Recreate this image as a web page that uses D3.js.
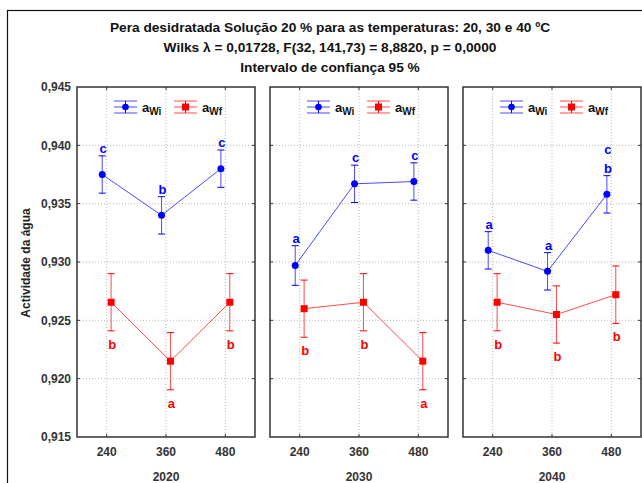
<!DOCTYPE html>
<html>
<head>
<meta charset="utf-8">
<script src="https://cdn.jsdelivr.net/npm/d3@7"></script>
<style>
  html, body { margin: 0; padding: 0; background: #fff; }
  svg { display: block; font-family: "Liberation Sans", Arial, sans-serif; }
</style>
</head>
<body>
<svg id="chart" width="642" height="483"></svg>
<script>
// ---- data ----
const titleLines = [
  "Pera desidratada Solução 20 % para as temperaturas: 20, 30 e 40 ºC",
  "Wilks λ = 0,01728, F(32, 141,73) = 8,8820, p = 0,0000",
  "Intervalo de confiança 95 %"
];
const groups = ["2020", "2030", "2040"];
const times = [240, 360, 480];
const yTicks = [0.915, 0.920, 0.925, 0.930, 0.935, 0.940, 0.945];
const yLabel = "Actividade da água";

const awiMean = [
  [0.9375, 0.9340, 0.9380],
  [0.9297, 0.9367, 0.9369],
  [0.9310, 0.9292, 0.9358]
];
const awiCI = [
  [0.0016, 0.0016, 0.0016],
  [0.0017, 0.0016, 0.0016],
  [0.0016, 0.0016, 0.0016]
];
const awiLetters = [
  ["c", "b", "c"],
  ["a", "c", "c"],
  ["a", "a", "c/b"]
];
const awfMean = [
  [0.92655, 0.9215, 0.92655],
  [0.9260, 0.92655, 0.9215],
  [0.92655, 0.9255, 0.9272]
];
const awfCI = [
  [0.00245, 0.00245, 0.00245],
  [0.00245, 0.00245, 0.00245],
  [0.00245, 0.00245, 0.00246]
];
const awfLetters = [
  ["b", "a", "b"],
  ["b", "b", "a"],
  ["b", "b", "b"]
];

// ---- layout ----
const svg = d3.select("#chart");
const yTop = 87, yBottom = 437;
const panelScale = d3.scaleBand().domain(groups).range([77, 641]).paddingInner(0.0777).paddingOuter(0);
const y = d3.scaleLinear().domain([0.915, 0.945]).range([yBottom, yTop]);
const BLUE = "#0000ff", RED = "#ff0000";
const LINE_BLUE = "#4a4aff", LINE_RED = "#ff4a4a";
const jitter = 9;

// outer frame
svg.append("rect").attr("x", 7.5).attr("y", 10.5).attr("width", 700).attr("height", 600)
  .attr("fill", "none").attr("stroke", "#111").attr("stroke-width", 1.2);

// titles
svg.selectAll("text.title").data(titleLines).join("text")
  .attr("class", "title")
  .attr("x", 330).attr("y", (d, i) => 31.5 + i * 20.3)
  .attr("text-anchor", "middle")
  .attr("font-size", 13.7).attr("font-weight", "bold").attr("fill", "#111")
  .text(d => d);

// y axis label
svg.append("text")
  .attr("transform", "translate(30,263) rotate(-90)")
  .attr("text-anchor", "middle")
  .attr("font-size", 12).attr("font-weight", "bold").attr("fill", "#222")
  .text(yLabel);

// y tick labels
svg.selectAll("text.ytick").data(yTicks).join("text")
  .attr("class", "ytick")
  .attr("x", 71).attr("y", d => y(d) + 4.3)
  .attr("text-anchor", "end")
  .attr("font-size", 12).attr("font-weight", "bold").attr("fill", "#333")
  .text(d => d3.format(".3f")(d).replace(".", ","));

groups.forEach((g, gi) => {
  const x0 = panelScale(g), x1 = x0 + panelScale.bandwidth();
  const x = d3.scaleLinear().domain([180, 540]).range([x0, x1]);
  const p = svg.append("g");

  // grid
  p.selectAll("line.hg").data(yTicks.slice(1, -1)).join("line")
    .attr("x1", x0).attr("x2", x1).attr("y1", d => y(d)).attr("y2", d => y(d))
    .attr("stroke", "#b8b8b8").attr("stroke-width", 1).attr("stroke-dasharray", "1,2");
  p.selectAll("line.vg").data(times).join("line")
    .attr("x1", d => x(d)).attr("x2", d => x(d)).attr("y1", yTop).attr("y2", yBottom)
    .attr("stroke", "#b8b8b8").attr("stroke-width", 1).attr("stroke-dasharray", "1,2");

  // inner ticks
  yTicks.slice(1, -1).forEach(t => {
    p.append("line").attr("x1", x0).attr("x2", x0 + 3).attr("y1", y(t)).attr("y2", y(t)).attr("stroke", "#333");
    p.append("line").attr("x1", x1 - 3).attr("x2", x1).attr("y1", y(t)).attr("y2", y(t)).attr("stroke", "#333");
  });
  times.forEach(t => {
    p.append("line").attr("x1", x(t)).attr("x2", x(t)).attr("y1", yTop).attr("y2", yTop + 3).attr("stroke", "#333");
    p.append("line").attr("x1", x(t)).attr("x2", x(t)).attr("y1", yBottom - 3).attr("y2", yBottom).attr("stroke", "#333");
  });

  // frame
  p.append("rect").attr("x", x0).attr("y", yTop).attr("width", x1 - x0).attr("height", yBottom - yTop)
    .attr("fill", "none").attr("stroke", "#333").attr("stroke-width", 1.5);

  // x tick labels
  p.selectAll("text.xt").data(times).join("text")
    .attr("x", d => x(d)).attr("y", 456)
    .attr("text-anchor", "middle").attr("font-size", 12).attr("font-weight", "bold").attr("fill", "#333")
    .text(d => d);
  p.append("text").attr("x", (x0 + x1) / 2).attr("y", 481)
    .attr("text-anchor", "middle").attr("font-size", 12).attr("font-weight", "bold").attr("fill", "#333")
    .text(g);

  const series = [
    { mean: awiMean[gi], ci: awiCI[gi], letters: awiLetters[gi], color: BLUE, lc: LINE_BLUE, off: -jitter, shape: "circle", up: true },
    { mean: awfMean[gi], ci: awfCI[gi], letters: awfLetters[gi], color: RED, lc: LINE_RED, off: jitter, shape: "square", up: false }
  ];
  series.forEach(s => {
    const pts = times.map((t, i) => ({ x: x(t + s.off), m: s.mean[i], c: s.ci[i], l: s.letters[i] }));
    p.append("path").attr("d", d3.line().x(d => d.x).y(d => y(d.m))(pts))
      .attr("fill", "none").attr("stroke", s.lc).attr("stroke-width", 1);
    pts.forEach(d => {
      const yt = y(d.m + d.c), yb = y(d.m - d.c);
      p.append("line").attr("x1", d.x).attr("x2", d.x).attr("y1", yt).attr("y2", yb)
        .attr("stroke", s.lc).attr("stroke-width", 1);
      [yt, yb].forEach(yy => p.append("line").attr("x1", d.x - 3.5).attr("x2", d.x + 3.5)
        .attr("y1", yy).attr("y2", yy).attr("stroke", s.color).attr("stroke-width", 1));
      if (s.shape === "circle") {
        p.append("circle").attr("cx", d.x).attr("cy", y(d.m)).attr("r", 3.5).attr("fill", s.color);
      } else {
        p.append("rect").attr("x", d.x - 3.5).attr("y", y(d.m) - 3.5).attr("width", 7).attr("height", 7).attr("fill", s.color);
      }
      const parts = d.l.split("/");
      parts.forEach((ch, k) => {
        const yy = s.up ? yt - 3 - (parts.length - 1 - k) * 19 : yb + 18 + k * 19;
        p.append("text").attr("x", d.x + 1).attr("y", yy)
          .attr("text-anchor", "middle").attr("font-size", 13).attr("font-weight", "bold").attr("fill", s.color)
          .text(ch);
      });
    });
  });

  // legend
  const cx = (x0 + x1) / 2;
  const lx = cx - 52;
  const ly = 107;
  const items = [
    { color: BLUE, lc: LINE_BLUE, sub: "Wi", shape: "circle", x: lx },
    { color: RED, lc: LINE_RED, sub: "Wf", shape: "square", x: lx + 60 }
  ];
  items.forEach(it => {
    const c = it.x + 11.5;
    [ly - 6, ly, ly + 6].forEach(yy => p.append("line").attr("x1", it.x).attr("x2", it.x + 23)
      .attr("y1", yy).attr("y2", yy).attr("stroke", it.lc).attr("stroke-width", 1));
    p.append("line").attr("x1", c).attr("x2", c).attr("y1", ly - 6).attr("y2", ly + 6).attr("stroke", it.color);
    if (it.shape === "circle") p.append("circle").attr("cx", c).attr("cy", ly).attr("r", 3.3).attr("fill", it.color);
    else p.append("rect").attr("x", c - 3.5).attr("y", ly - 3.5).attr("width", 7).attr("height", 7).attr("fill", it.color);
    const t = p.append("text").attr("x", it.x + 28).attr("y", ly + 4.5)
      .attr("font-size", 13).attr("font-weight", "bold").attr("fill", "#111");
    t.append("tspan").text("a");
    t.append("tspan").attr("font-size", 10).attr("dy", 3.5).text(it.sub);
  });
});
</script>
</body>
</html>
